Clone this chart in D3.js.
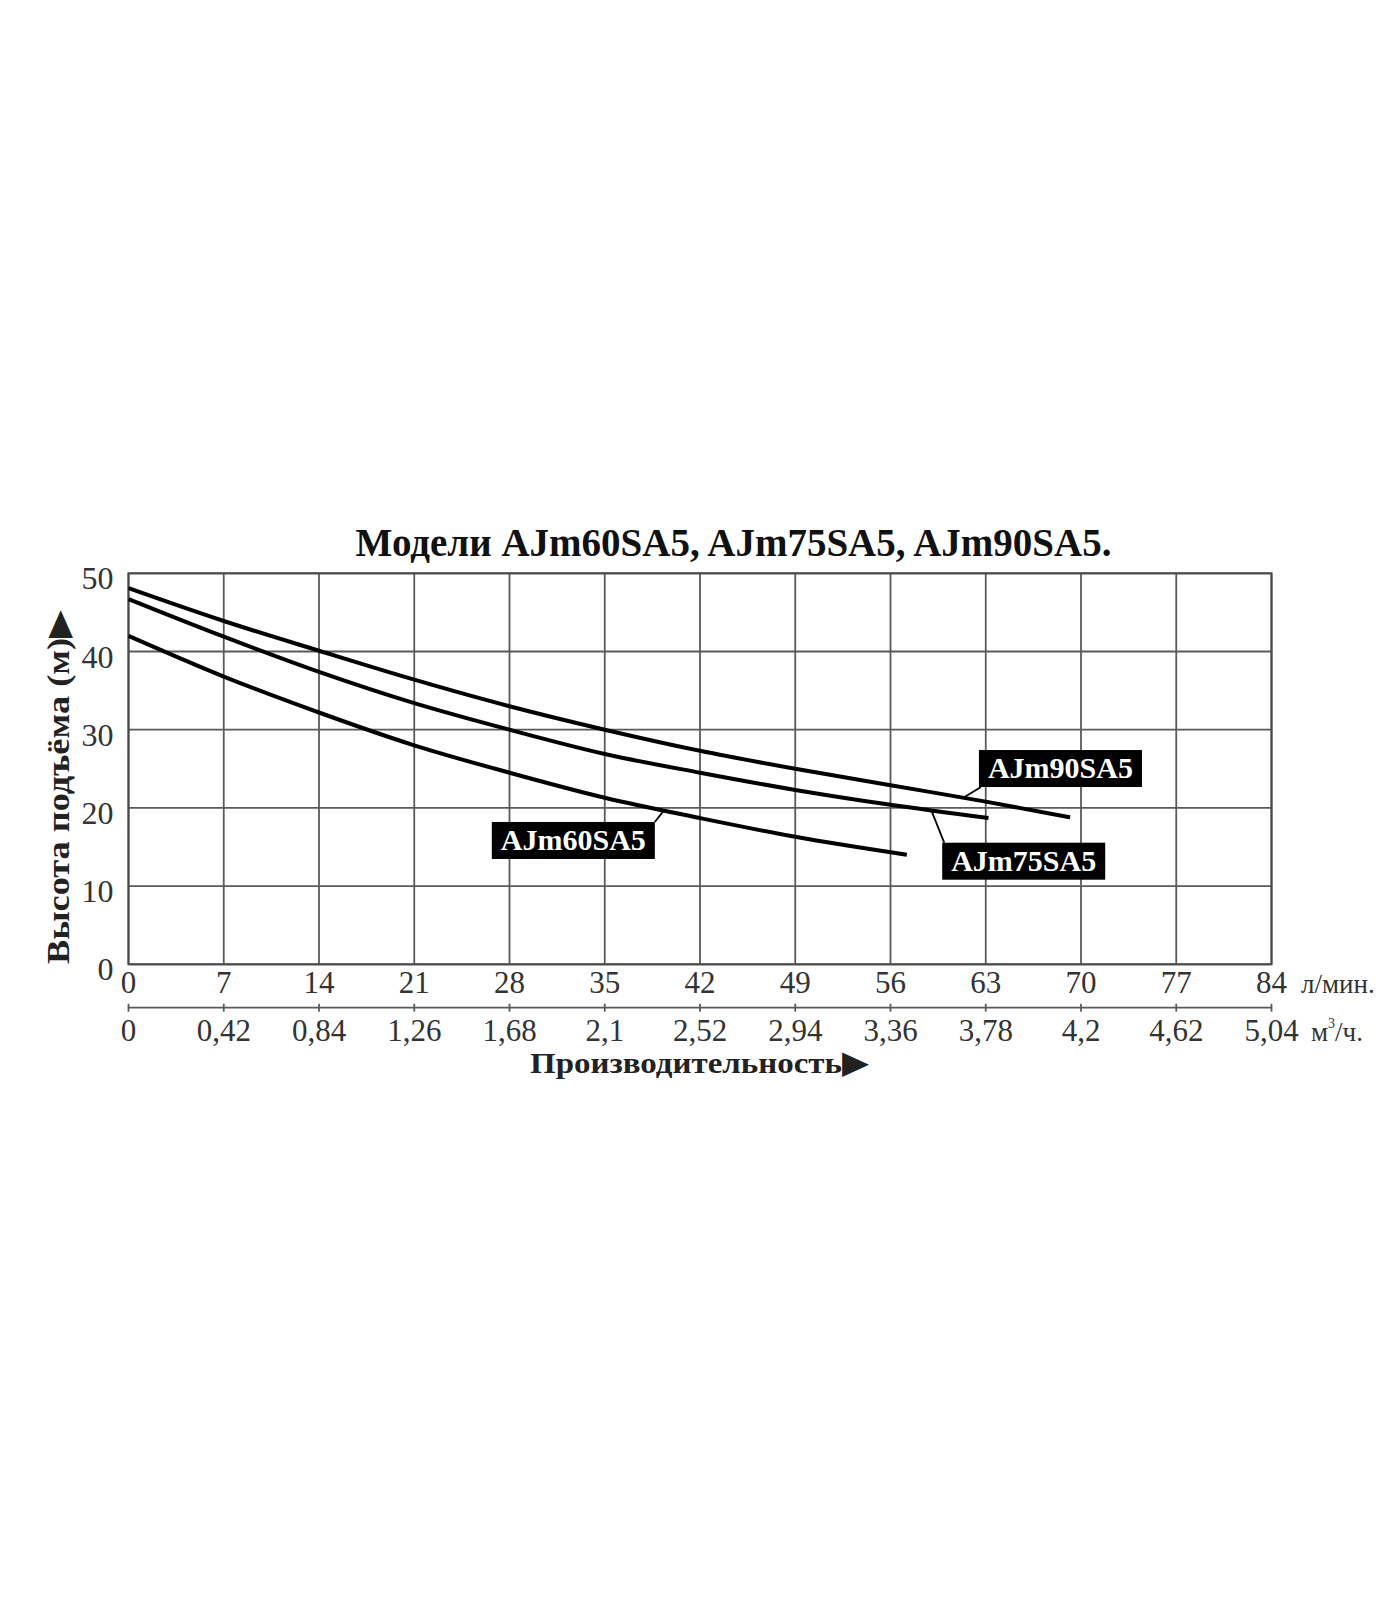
<!DOCTYPE html>
<html>
<head>
<meta charset="utf-8">
<script src="https://cdn.jsdelivr.net/npm/d3@7"></script>
<style>
  html, body { margin: 0; padding: 0; background: #fff; }
  svg { display: block; }
</style>
</head>
<body>
<svg id="chart" width="1400" height="1600"></svg>
<script>
// ---- data ----
const titleText = "Модели AJm60SA5, AJm75SA5, AJm90SA5.";
const yTitle = "Высота подъёма (м)";
const xTitle = "Производительность";
const unitLpm = "л/мин.";
const flowLpmTicks = [0, 7, 14, 21, 28, 35, 42, 49, 56, 63, 70, 77, 84];
const flowM3hLabels = ["0", "0,42", "0,84", "1,26", "1,68", "2,1", "2,52", "2,94", "3,36", "3,78", "4,2", "4,62", "5,04"];
const headTicks = [0, 10, 20, 30, 40, 50];

const seriesNames = ["AJm60SA5", "AJm75SA5", "AJm90SA5"];
const q60 = [0, 7, 14, 21, 28, 35, 42, 49, 57.2];
const h60 = [42.0, 36.8, 32.2, 28.0, 24.5, 21.3, 18.7, 16.3, 14.0];
const q75 = [0, 7, 14, 21, 28, 35, 42, 49, 56, 63.2];
const h75 = [46.7, 41.9, 37.4, 33.4, 30.0, 26.9, 24.5, 22.3, 20.4, 18.7];
const q90 = [0, 7, 14, 21, 28, 35, 42, 49, 56, 63, 69.2];
const h90 = [48.1, 43.9, 40.1, 36.4, 33.0, 30.0, 27.3, 25.0, 22.9, 20.8, 18.8];

// label annotations (data units): box corner and curve anchor
const labelBoxQ = [26.7, 59.8, 62.5];
const labelBoxH = [18.2, 15.55, 27.4];
const leaderQ = [39.35, 59.0, 61.35];

(function () {
// ---- layout ----
const pL = 128.5, pR = 1271.5, pT = 573.3, pB = 964.3;
const x = d3.scaleLinear().domain([0, 84]).range([pL, pR]);
const y = d3.scaleLinear().domain([0, 50]).range([pB, pT]);

const svg = d3.select("#chart");
const serif = "'Liberation Serif', 'Times New Roman', serif";
const tickColor = "#333";
const gridColor = "#5a5a5a";

// grid
const g = svg.append("g");
g.selectAll("line.v").data(flowLpmTicks).enter().append("line")
  .attr("x1", d => x(d)).attr("x2", d => x(d))
  .attr("y1", pT).attr("y2", pB)
  .attr("stroke", gridColor).attr("stroke-width", 1.8);
g.selectAll("line.h").data(headTicks).enter().append("line")
  .attr("x1", pL).attr("x2", pR)
  .attr("y1", d => y(d)).attr("y2", d => y(d))
  .attr("stroke", gridColor).attr("stroke-width", 1.8);

// y tick labels
svg.selectAll("text.yt").data(headTicks).enter().append("text")
  .attr("x", pL - 15).attr("y", d => y(d) + 16)
  .attr("text-anchor", "end")
  .attr("font-family", serif).attr("font-size", 32).attr("fill", tickColor)
  .text(d => d);

// x tick labels row 1 (l/min)
svg.selectAll("text.xt").data(flowLpmTicks).enter().append("text")
  .attr("x", d => x(d)).attr("y", 993)
  .attr("text-anchor", "middle")
  .attr("font-family", serif).attr("font-size", 31).attr("fill", tickColor)
  .text(d => d);
svg.append("text").attr("x", 1301).attr("y", 993)
  .attr("font-family", serif).attr("font-size", 27).attr("fill", tickColor)
  .text(unitLpm);

// second axis (m3/h)
const axis2Y = 1007.7;
svg.append("line").attr("x1", x(0)).attr("x2", x(84))
  .attr("y1", axis2Y).attr("y2", axis2Y)
  .attr("stroke", gridColor).attr("stroke-width", 1.8);
svg.selectAll("line.t2").data(flowLpmTicks).enter().append("line")
  .attr("x1", d => x(d)).attr("x2", d => x(d))
  .attr("y1", axis2Y - 4).attr("y2", axis2Y + 4)
  .attr("stroke", gridColor).attr("stroke-width", 1.8);
svg.selectAll("text.xt2").data(flowLpmTicks).enter().append("text")
  .attr("x", d => x(d)).attr("y", 1041)
  .attr("text-anchor", "middle")
  .attr("font-family", serif).attr("font-size", 31).attr("fill", tickColor)
  .text((d, i) => flowM3hLabels[i]);
const u2 = svg.append("text").attr("x", 1311).attr("y", 1041)
  .attr("font-family", serif).attr("font-size", 27).attr("fill", tickColor);
u2.append("tspan").text("м");
u2.append("tspan").attr("font-size", 14).attr("dy", -13).text("3");
u2.append("tspan").attr("dy", 13).text("/ч.");

// plot border
svg.append("rect").attr("x", pL).attr("y", pT)
  .attr("width", pR - pL).attr("height", pB - pT)
  .attr("fill", "none").attr("stroke", "#4a4a4a").attr("stroke-width", 2);

// curves
const seriesQ = [q60, q75, q90];
const seriesH = [h60, h75, h90];
const line = d3.line().x(d => x(d[0])).y(d => y(d[1])).curve(d3.curveMonotoneX);
seriesQ.forEach((qs, i) => {
  const pts = qs.map((q, j) => [q, seriesH[i][j]]);
  svg.append("path").attr("d", line(pts))
    .attr("fill", "none").attr("stroke", "#000").attr("stroke-width", 4);
});

function interpH(i, q) {
  const qs = seriesQ[i], hs = seriesH[i];
  for (let j = 0; j < qs.length - 1; j++) {
    if (q >= qs[j] && q <= qs[j + 1]) {
      const t = (q - qs[j]) / (qs[j + 1] - qs[j]);
      return hs[j] + t * (hs[j + 1] - hs[j]);
    }
  }
  return hs[hs.length - 1];
}

// labels
const boxW = 163, boxH = 37;
seriesNames.forEach((name, i) => {
  const bx = x(labelBoxQ[i]), by = y(labelBoxH[i]);
  const ax = x(leaderQ[i]), ay = y(interpH(i, leaderQ[i]));
  let px, py;
  if (i === 0) { px = bx + boxW; py = by; }
  else if (i === 1) { px = bx + 2; py = by; }
  else { px = bx + 2; py = by + boxH; }
  svg.append("line").attr("x1", px).attr("y1", py).attr("x2", ax).attr("y2", ay)
    .attr("stroke", "#000").attr("stroke-width", 1.8);
  svg.append("rect").attr("x", bx).attr("y", by).attr("width", boxW).attr("height", boxH)
    .attr("fill", "#000");
  svg.append("text").attr("x", bx + boxW / 2).attr("y", by + 28)
    .attr("text-anchor", "middle")
    .attr("font-family", serif).attr("font-weight", "bold").attr("font-size", 30)
    .attr("fill", "#fff").text(name);
});

// title
svg.append("text").attr("x", 733.5).attr("y", 556)
  .attr("text-anchor", "middle")
  .attr("font-family", serif).attr("font-weight", "bold").attr("font-size", 39)
  .attr("fill", "#111").text(titleText);

// x-axis title
const xt = svg.append("text").attr("x", 530).attr("y", 1073)
  .attr("font-family", serif).attr("font-weight", "bold").attr("font-size", 30)
  .attr("fill", "#222")
  .attr("textLength", 339).attr("lengthAdjust", "spacingAndGlyphs");
xt.append("tspan").text(xTitle);
xt.append("tspan").attr("font-family", "'DejaVu Sans', sans-serif").attr("font-size", 32).text("▶");

// y-axis title
const yt = svg.append("text")
  .attr("transform", "translate(69,964) rotate(-90)")
  .attr("font-family", serif).attr("font-weight", "bold").attr("font-size", 32)
  .attr("fill", "#222")
  .attr("textLength", 354).attr("lengthAdjust", "spacingAndGlyphs");
yt.append("tspan").text(yTitle);
yt.append("tspan").attr("font-family", "'DejaVu Sans', sans-serif").attr("font-size", 32).text("▶");
})();
</script>
</body>
</html>
